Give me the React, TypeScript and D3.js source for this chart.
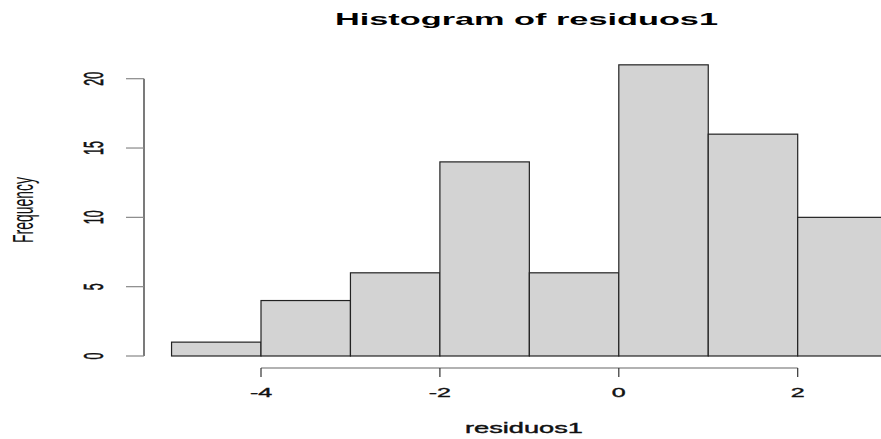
import * as d3 from 'd3';

const BREAKS = [-5, -4, -3, -2, -1, 0, 1, 2, 3];
const COUNTS = [1, 4, 6, 14, 6, 21, 16, 10];
const X_TICKS = [-4, -2, 0, 2];
const Y_TICKS = [0, 5, 10, 15, 20];

const W = 881;
const H = 439;
const FONT = '"Liberation Sans", Arial, Helvetica, sans-serif';

export default function App() {
  // the reference looks horizontally stretched, so text gets stretched too
  const x = d3.scaleLinear().domain([-4, 2]).range([261, 797.7]);
  const y = d3.scaleLinear().domain([0, 20]).range([356, 78.7]);

  const bins = COUNTS.map((c, i) => ({ x0: BREAKS[i], x1: BREAKS[i + 1], count: c }));
  const axisY = 368;
  const axisX = 144;

  return (
    <svg
      width={W}
      height={H}
      style={{ position: 'absolute', left: 0, top: 0, background: '#fff', overflow: 'hidden' }}
    >
      {/* title */}
      <text
        x={526.5}
        y={25}
        textAnchor="middle"
        fontFamily={FONT}
        fontWeight="bold"
        fontSize={17}
        textLength={383}
        lengthAdjust="spacingAndGlyphs"
        fill="#000"
      >
        Histogram of residuos1
      </text>

      {/* bars */}
      <g>
        {bins.map((b, i) => (
          <rect
            key={i}
            x={x(b.x0)}
            y={y(b.count)}
            width={x(b.x1) - x(b.x0)}
            height={y(0) - y(b.count)}
            fill="#d3d3d3"
            stroke="#222"
            strokeWidth={1.2}
          />
        ))}
      </g>

      {/* x axis */}
      <g>
        <line x1={x(X_TICKS[0])} x2={x(X_TICKS[X_TICKS.length - 1])} y1={axisY} y2={axisY} stroke="#666" strokeWidth={1.2} />
        {X_TICKS.map(t => (
          <g key={t}>
            <line x1={x(t)} x2={x(t)} y1={axisY} y2={axisY + 9} stroke="#333" strokeWidth={1.2} />
            <text
              transform={`translate(${x(t)},397) scale(2,1)`}
              textAnchor="middle"
              fontFamily={FONT}
              fontSize={12.5}
              fill="#111"
              stroke="#111"
              strokeWidth={0.35}
            >
              {t < 0 ? '-' + Math.abs(t) : String(t)}
            </text>
          </g>
        ))}
      </g>

      {/* y axis */}
      <g>
        <line x1={axisX} x2={axisX} y1={y(0)} y2={y(20)} stroke="#333" strokeWidth={1.3} />
        {Y_TICKS.map(t => (
          <g key={t}>
            <line x1={axisX - 18} x2={axisX} y1={y(t)} y2={y(t)} stroke="#888" strokeWidth={1.2} />
            <text
              transform={`translate(103,${y(t)}) rotate(-90) scale(1,2.2)`}
              textAnchor="middle"
              fontFamily={FONT}
              fontSize={12.5}
              fill="#111"
              stroke="#111"
              strokeWidth={0.3}
            >
              {t}
            </text>
          </g>
        ))}
      </g>

      {/* axis labels */}
      <text
        x={524}
        y={433}
        textAnchor="middle"
        fontFamily={FONT}
        fontSize={15.5}
        textLength={118}
        lengthAdjust="spacingAndGlyphs"
        fill="#111"
        stroke="#111"
        strokeWidth={0.4}
      >
        residuos1
      </text>
      <text
        transform="translate(33,210) rotate(-90) scale(1,2)"
        textAnchor="middle"
        fontFamily={FONT}
        fontSize={15}
        textLength={66}
        lengthAdjust="spacingAndGlyphs"
        fill="#111"
      >
        Frequency
      </text>
    </svg>
  );
}
